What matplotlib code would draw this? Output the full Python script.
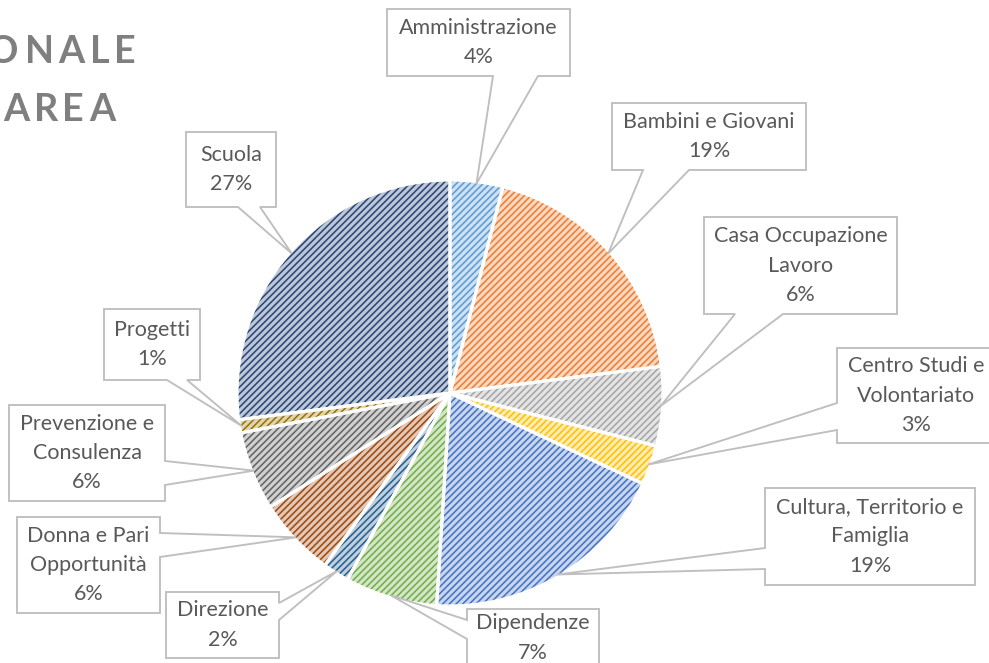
import numpy as np
import matplotlib.pyplot as plt
from matplotlib.patches import Polygon

plt.rcParams['font.family'] = ['Lato', 'DejaVu Sans']
plt.rcParams['hatch.linewidth'] = 1.4

# data
names = [["Amministrazione"], ["Bambini e Giovani"], ["Casa Occupazione", "Lavoro"],
         ["Centro Studi e", "Volontariato"], ["Cultura, Territorio e", "Famiglia"],
         ["Dipendenze"], ["Direzione"], ["Donna e Pari", "Opportunità"],
         ["Prevenzione e", "Consulenza"], ["Progetti"], ["Scuola"]]
values = [4, 19, 6, 3, 19, 7, 2, 6, 6, 1, 27]
colors = ['#5B9BD5', '#ED7D31', '#A5A5A5', '#FFC000', '#4472C4', '#70AD47',
          '#255E91', '#9E480E', '#636363', '#997300', '#264478']

# callout boxes (x0, y0, x1, y1) in pixel coords, side of the pointer, pointer base
boxes = [
    ((387, 9, 570, 76), 'bottom', (493, 538)),
    ((612, 103, 806, 170), 'bottom', (643, 689)),
    ((704, 217, 897, 314), 'bottom', (735, 783)),
    ((837, 348, 995, 443), 'left', (403, 430)),
    ((765, 488, 975, 585), 'left', (548, 569)),
    ((467, 609, 599, 672), 'left', (620, 639)),
    ((166, 592, 279, 658), 'right', (603, 620)),
    ((17, 517, 160, 613), 'right', (533, 557)),
    ((9, 405, 165, 501), 'right', (461, 485)),
    ((104, 309, 200, 380), 'bottom', (167, 187)),
    ((186, 132, 276, 207), 'bottom', (238, 260)),
]

# title fragments visible at the left edge (letter, x centre)
title_rows = [(52, [('O', 3), ('N', 39), ('A', 71.5), ('L', 99.5), ('E', 124.5)]),
              (110, [('A', 16), ('R', 46), ('E', 73), ('A', 102)])]

W, H = 989, 663
cx, cy, r = 450, 393, 213

fig = plt.figure(figsize=(W / 80, H / 80), dpi=80)
ax = fig.add_axes([0, 0, 1, 1])


def tint(c, t=0.3):
    rgb = np.array(plt.matplotlib.colors.to_rgb(c))
    return tuple(rgb * t + (1 - t))


# base light fill
ax.pie(values, colors=[tint(c) for c in colors], center=(cx, cy), radius=r,
       startangle=-90, counterclock=True, wedgeprops=dict(linewidth=0))
# hatch layer
hw, _ = ax.pie(values, center=(cx, cy), radius=r, startangle=-90, counterclock=True)
for w, c in zip(hw, colors):
    w.set_facecolor('none')
    w.set_edgecolor(c)
    w.set_linewidth(0)
    w.set_hatch('////')
# white separators
ax.pie(values, center=(cx, cy), radius=r, startangle=-90, counterclock=True,
       wedgeprops=dict(facecolor='none', edgecolor='white', linewidth=2.8))

ax.set_xlim(0, W)
ax.set_ylim(H, 0)
ax.axis('off')

total = sum(values)
cum = np.cumsum([0] + values)
for i, ((x0, y0, x1, y1), side, (a, b)) in enumerate(boxes):
    phi = np.deg2rad((cum[i] + values[i] / 2) / total * 360)
    tip = (cx + 0.99 * r * np.sin(phi), cy - 0.99 * r * np.cos(phi))
    pts = [(x0, y0), (x1, y0)]
    if side == 'right':
        pts += [(x1, a), tip, (x1, b)]
    pts += [(x1, y1)]
    if side == 'bottom':
        pts += [(b, y1), tip, (a, y1)]
    pts += [(x0, y1)]
    if side == 'left':
        pts += [(x0, b), tip, (x0, a)]
    ax.add_patch(Polygon(pts, closed=True, facecolor='white', edgecolor='#BFBFBF',
                         linewidth=1.7, zorder=5))
    lines = names[i] + [f"{values[i]}%"]
    n = len(lines)
    xm = (x0 + x1) / 2
    ym = (y0 + y1) / 2 if y1 <= H else y0 + 29
    for k, t in enumerate(lines):
        ax.text(xm, ym + (k - (n - 1) / 2) * 29.5, t, ha='center', va='center',
                fontsize=19.3, color='#595959', zorder=6)

for y, letters in title_rows:
    for ch, x in letters:
        ax.text(x, y, ch, ha='center', va='center', fontsize=34, fontweight='bold',
                color='#7F7F7F')

fig.savefig('out.png', dpi=80)
